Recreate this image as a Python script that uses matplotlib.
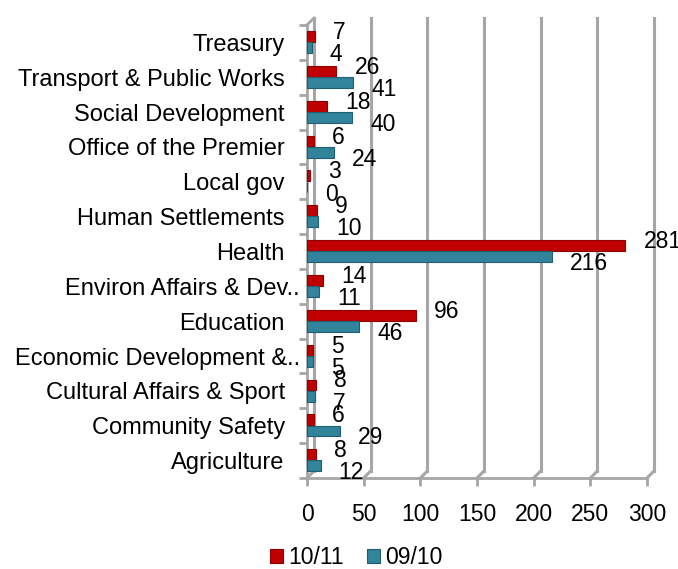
import numpy as np
import matplotlib.pyplot as plt
import matplotlib.transforms as mtransforms

plt.rcParams['font.family'] = ['Liberation Sans', 'DejaVu Sans']

# datos (de arriba hacia abajo)
categorias = ["Treasury", "Transport & Public Works", "Social Development",
              "Office of the Premier", "Local gov", "Human Settlements", "Health",
              "Environ Affairs & Dev..", "Education", "Economic Development &..",
              "Cultural Affairs & Sport", "Community Safety", "Agriculture"]
valores_1011 = [7, 26, 18, 6, 3, 9, 281, 14, 96, 5, 8, 6, 8]
valores_0910 = [4, 41, 40, 24, 0, 10, 216, 11, 46, 5, 7, 29, 12]
ticks_x = [0, 50, 100, 150, 200, 250, 300]

rojo = "#C00000"
azul = "#31849B"
gris = "#A6A6A6"
fs_cat = 17
fs_num = 16.5

fig = plt.figure(figsize=(6.78, 5.69), dpi=100)
ax = fig.add_axes([307/678, 1-478/569, (647-307)/678, (478-25)/569])

n = len(categorias)
y = np.arange(n)[::-1]

ax.barh(y + 0.17, valores_1011, height=0.31, color=rojo, edgecolor="#8E0000",
        linewidth=0.8, zorder=3, label="10/11")
ax.barh(y - 0.15, valores_0910, height=0.31, color=azul, edgecolor="#215F70",
        linewidth=0.8, zorder=3, label="09/10")

ax.set_xlim(0, 300)
ax.set_ylim(-0.5, n - 0.5)

# etiquetas de valores
off_r = mtransforms.offset_copy(ax.transData, fig=fig, x=18, y=4, units='dots')
off_a = mtransforms.offset_copy(ax.transData, fig=fig, x=18, y=-7, units='dots')
for yi, v in zip(y, valores_1011):
    ax.text(v, yi + 0.17, str(v), transform=off_r, fontsize=fs_num, va='center',
            ha='left', clip_on=False, zorder=5)
for yi, v in zip(y, valores_0910):
    ax.text(v, yi - 0.15, str(v), transform=off_a, fontsize=fs_num, va='center',
            ha='left', clip_on=False, zorder=5)

# pared del fondo (efecto 3D)
dx, dy = 7, 7
back = mtransforms.offset_copy(ax.get_xaxis_transform(), fig=fig, x=dx, y=dy, units='dots')
for xv in ticks_x:
    ax.plot([xv, xv], [0, 1], transform=back, color=gris, lw=2.2, zorder=1, clip_on=False)
    # diagonal hacia el frente
    x0, y0 = ax.get_xaxis_transform().transform((xv, 0))
    ax.plot([x0, x0 + dx], [y0, y0 + dy], transform=None, color=gris, lw=2.2,
            zorder=1, clip_on=False)
# linea izquierda del fondo
x0, y0 = ax.transAxes.transform((0, 1))
ax.plot([x0, x0 + dx], [y0, y0 + dy], transform=None, color=gris, lw=2, clip_on=False)

for s in ["top", "right"]:
    ax.spines[s].set_visible(False)
for s in ["left", "bottom"]:
    ax.spines[s].set_color(gris)
    ax.spines[s].set_linewidth(2)

ax.set_xticks(ticks_x)
ax.set_xticklabels([str(t) for t in ticks_x], fontsize=fs_num)
ax.tick_params(axis='x', length=6, width=2, color=gris, pad=12)

ax.set_yticks(np.arange(n + 1) - 0.5, minor=False)
ax.set_yticklabels([])
ax.set_yticks(y, minor=True)
ax.set_yticklabels(categorias, minor=True, fontsize=fs_cat)
ax.tick_params(axis='y', which='major', length=6, width=2, color=gris, direction='out')
ax.tick_params(axis='y', which='minor', length=0, pad=16)

for lab in ax.get_yticklabels(minor=True):
    if lab.get_text().endswith(".."):
        lab.set_transform(lab.get_transform() +
                          mtransforms.ScaledTranslation(15/100, 0, fig.dpi_scale_trans))

fig.legend(loc='center', bbox_to_anchor=(0.525, 0.02), ncol=2, frameon=False,
           fontsize=fs_num, handlelength=0.6, handleheight=0.6, handletextpad=0.2,
           columnspacing=1.0)

fig.savefig("out.png", dpi=100)
